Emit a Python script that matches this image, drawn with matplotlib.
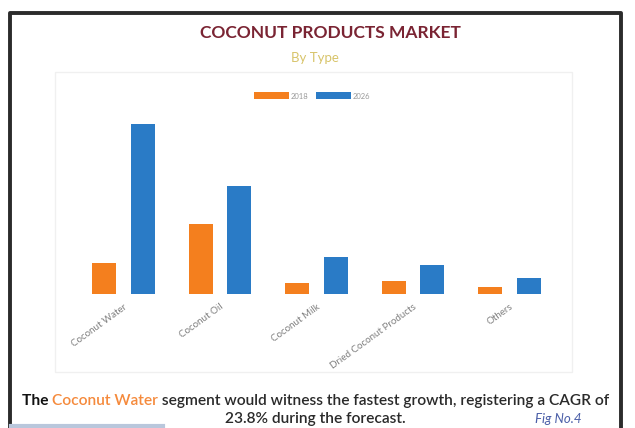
import numpy as np
import matplotlib.pyplot as plt
from matplotlib.patches import Rectangle

# Market by product type, 2018 vs 2026
types = ['Coconut Water', 'Coconut Oil', 'Coconut Milk', 'Dried Coconut Products', 'Others']
years = ['2018', '2026']
revenue_2018 = [1.55, 3.5, 0.55, 0.65, 0.35]
revenue_2026 = [8.5, 5.4, 1.85, 1.45, 0.8]

W, H = 635, 428
orange = '#F47F1E'
blue = '#2A7BC6'
plt.rcParams['font.family'] = ['Lato', 'DejaVu Sans']


def fx(px):
    return px / W


def fy(py):
    return 1 - py / H


fig = plt.figure(figsize=(W / 100, H / 100), dpi=100)
fig.patch.set_facecolor('white')

# overlay in pixel units for the frame and text
bg = fig.add_axes([0, 0, 1, 1])
bg.set_xlim(0, W)
bg.set_ylim(H, 0)
bg.axis('off')
bg.patch.set_visible(False)

# outer frame (bottom edge runs off the image)
bg.plot([10, 10, 621, 621], [440, 13, 13, 440], color='#2b2b2b', lw=2.8, clip_on=False)
bg.plot([11, 163], [426, 426], color='#b9c7dc', lw=3, clip_on=False)
# faint plot-area box
bg.add_patch(Rectangle((55, 72), 517, 300, fill=False, ec='#f0f0f0', lw=1))

bg.text(330, 33, 'COCONUT PRODUCTS MARKET', ha='center', va='center',
        fontsize=12.5, fontweight='bold', color='#7A2433')
bg.text(315, 58, 'By Type', ha='center', va='center', fontsize=9.5, color='#D8C46A')

# bar chart
ax = fig.add_axes([fx(55), fy(294), (570 - 55) / W, 184 / H])
x = np.arange(len(types))
ax.bar(x - 0.2, revenue_2018, 0.245, color=orange, label=years[0])
ax.bar(x + 0.2, revenue_2026, 0.245, color=blue, label=years[1])
ax.set_xlim(-0.71, 4.627)
ax.set_ylim(0, 9.2)
ax.set_xticks(x, types, rotation=36, ha='right', rotation_mode='anchor',
              fontsize=7, color='#808080')
ax.tick_params(axis='x', length=0, pad=6)
ax.set_yticks([])
for s in ax.spines.values():
    s.set_visible(False)
ax.patch.set_visible(False)

fig.legend(loc='center', bbox_to_anchor=(fx(312), fy(96)), ncol=2, frameon=False,
           fontsize=5.5, handlelength=4.6, handleheight=1.0, columnspacing=0.9,
           handletextpad=0.3, labelcolor='#9a9a9a')

# caption with highlighted segment name
cap = dict(va='center', ha='left', fontsize=11.2, fontweight='semibold')
t = bg.text(22, 401, 'The ', color='#111111', **dict(cap, fontweight='bold'))
t = bg.annotate('Coconut Water', xy=(1, 0.5), xycoords=t, color='#F58A3C', **cap)
bg.annotate(' segment would witness the fastest growth, registering a CAGR of',
            xy=(1, 0.5), xycoords=t, color='#2a2a2a', **cap)
bg.text(315, 419, '23.8% during the forecast.', color='#2a2a2a',
        **dict(cap, ha='center'))
bg.text(535, 419, 'Fig No.4', ha='left', va='center', fontsize=9.5,
        style='italic', color='#4B5FA8')

fig.savefig('out.png', dpi=100)
